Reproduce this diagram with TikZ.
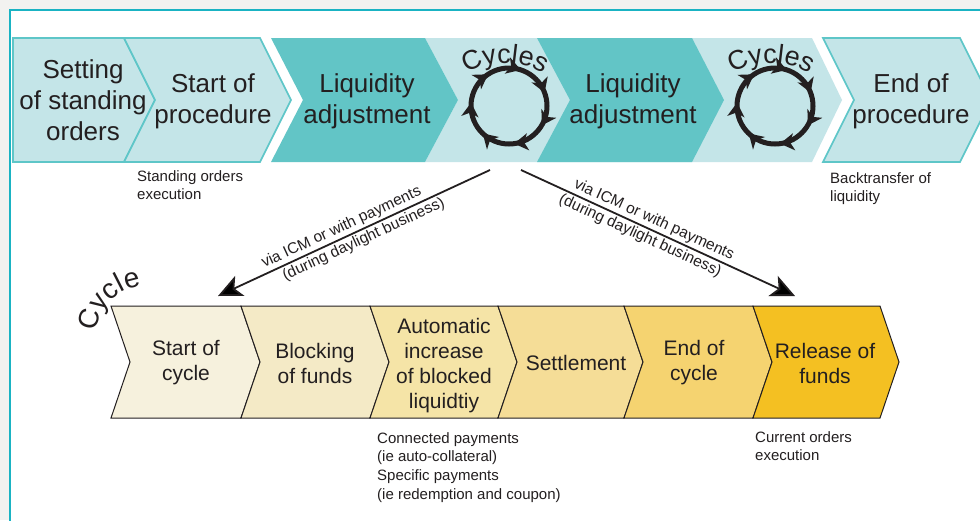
\documentclass[tikz,border=0pt]{standalone}
\usepackage{fontspec}
\setmainfont{Liberation Sans}
\usetikzlibrary{arrows.meta,decorations.text,decorations.markings}
\definecolor{bggray}{HTML}{F2F2F0}
\definecolor{frameteal}{HTML}{1AB3C3}
\definecolor{lightteal}{HTML}{C4E5E8}
\definecolor{darkteal}{HTML}{62C5C6}
\definecolor{lineteal}{HTML}{5EC6C8}
\definecolor{txt}{HTML}{231F20}
\definecolor{ya}{HTML}{F6F1DD}
\definecolor{yb}{HTML}{F4EAC6}
\definecolor{yc}{HTML}{F5E4A7}
\definecolor{yd}{HTML}{F5DD97}
\definecolor{ye}{HTML}{F5D370}
\definecolor{yf}{HTML}{F4C022}
\newcommand\cyclesfont{\fontsize{27}{30}\selectfont}
\begin{document}
\begin{tikzpicture}[x=1pt,y=1pt,
  bigtxt/.style={font=\fontsize{26}{31}\selectfont, align=center, text=txt, inner sep=0pt},
  midtxt/.style={font=\fontsize{21}{25}\selectfont, align=center, text=txt, inner sep=0pt},
  smalltxt/.style={font=\fontsize{15}{18.7}\selectfont, align=left, text=txt, inner sep=0pt, anchor=north west},
  lbl/.style={font=\fontsize{15.5}{18}\selectfont, text=txt, inner sep=2pt},
  cycletter/.style={font=\fontsize{28}{32}\selectfont, text=txt, inner sep=0pt, anchor=base},
  lightchev/.style={fill=lightteal, draw=lineteal, line width=1.6pt, line join=miter},
  darkchev/.style={fill=darkteal},
  ychev/.style={draw=txt, line width=1pt, line join=miter},
  bigarrow/.style={draw=txt, line width=1.8pt},
  ring/.style={draw=txt, line width=5pt, postaction={decorate},
    decoration={markings, mark=between positions 0.05 and 0.99 step 0.142857 with {\arrow[txt]{Stealth[length=14pt,width=17pt,inset=4pt]}}}}
]
\useasboundingbox (0,0) rectangle (980,-520);
\clip (0,0) rectangle (980,-520);
\fill[bggray] (0,0) rectangle (980,-520);
\draw[frameteal, line width=2pt, fill=white] (9.5,-9.5) rectangle (1000,-540);

% top row
\path[lightchev] (13,-38) -- (124,-38) -- (155,-100) -- (124,-162) -- (13,-162) -- cycle;
\path[lightchev] (124,-38) -- (260,-38) -- (291,-100) -- (260,-162) -- (124,-162) -- (155,-100) -- cycle;
\path[fill=lightteal] (425,-38) -- (812,-38) -- (842,-100) -- (812,-162) -- (425,-162) -- (458,-100) -- cycle;
\path[darkchev] (271,-38) -- (425,-38) -- (458,-100) -- (425,-162) -- (271,-162) -- (303,-100) -- cycle;
\path[darkchev] (537,-38) -- (692,-38) -- (724,-100) -- (692,-162) -- (537,-162) -- (570,-100) -- cycle;
\path[lightchev] (823,-38) -- (960,-38) -- (991,-100) -- (960,-162) -- (823,-162) -- (854,-100) -- cycle;

\node[bigtxt] (setting) at (83,-100) {Setting\\of standing\\orders};
\node[bigtxt] (startproc) at (213,-101) {Start of\\procedure};
\node[bigtxt] (liq1) at (367,-101) {Liquidity\\adjustment};
\node[bigtxt] (liq2) at (633,-101) {Liquidity\\adjustment};
\node[bigtxt] (endproc) at (911,-101) {End of\\procedure};

% cycle icons
\foreach \cx/\nm in {509/cyc1, 775/cyc2} {
  \coordinate (\nm) at (\cx,-106);
  \draw[ring] (\cx,-68) arc[start angle=90, end angle=-270, radius=38];
  \path[decorate, decoration={text along path, text={|\cyclesfont|Cycles}, text align=center, text color=txt}]
    (\cx-4,-139) ++(125:76) arc[start angle=125, end angle=55, radius=76];
}

% side notes top
\node[smalltxt] (standing) at (137,-170) {Standing orders\\execution};
\node[smalltxt] (backtr) at (830,-172) {Backtransfer of\\liquidity};

% bottom row
\path[ychev, fill=ya] (111,-306) -- (241,-306) -- (260,-362) -- (241,-418) -- (111,-418) -- (130,-362) -- cycle;
\path[ychev, fill=yb] (241,-306) -- (370,-306) -- (389,-362) -- (370,-418) -- (241,-418) -- (260,-362) -- cycle;
\path[ychev, fill=yc] (370,-306) -- (498,-306) -- (517,-362) -- (498,-418) -- (370,-418) -- (389,-362) -- cycle;
\path[ychev, fill=yd] (498,-306) -- (624,-306) -- (643,-362) -- (624,-418) -- (498,-418) -- (517,-362) -- cycle;
\path[ychev, fill=ye] (624,-306) -- (753,-306) -- (772,-362) -- (753,-418) -- (624,-418) -- (643,-362) -- cycle;
\path[ychev, fill=yf] (753,-306) -- (880,-306) -- (899,-362) -- (880,-418) -- (753,-418) -- (772,-362) -- cycle;

\node[midtxt] (startcyc) at (186,-363) {Start of\\cycle};
\node[midtxt] (blocking) at (315,-363) {Blocking\\of funds};
\node[midtxt] (auto) at (444,-366) {Automatic\\increase\\of blocked\\liquidtiy};
\node[midtxt] (settle) at (576,-363) {Settlement};
\node[midtxt] (endcyc) at (694,-363) {End of\\cycle};
\node[midtxt] (release) at (825,-363) {Release of\\funds};

% curved "Cycle" word, letter by letter
\foreach \ch/\a in {C/164, y/144.5, c/128.5, l/116.9, e/104.4} {
  \node[cycletter, rotate=\a-90] (cyc-\ch) at ([shift={(\a:50)}]146,-336) {\ch};
}

% bottom notes
\node[smalltxt] (connected) at (377,-432) {Connected payments\\(ie auto-collateral)\\Specific payments\\(ie redemption and coupon)};
\node[smalltxt] (current) at (755,-431) {Current orders\\execution};

% arrows
\coordinate (lstart) at (490,-170);
\coordinate (ltip) at (218,-296);
\coordinate (rstart) at (521,-170);
\coordinate (rtip) at (795,-296);
\draw[bigarrow, {Stealth[length=24pt,width=22pt,inset=6pt]}-] (ltip) -- (lstart)
  node[pos=0.47, above, sloped, lbl] (l1) {via ICM or with payments}
  node[pos=0.52, below, sloped, lbl] (l2) {(during daylight business)};
\draw[bigarrow, -{Stealth[length=24pt,width=22pt,inset=6pt]}] (rstart) -- (rtip)
  node[pos=0.47, above, sloped, lbl] (r1) {via ICM or with payments}
  node[pos=0.45, below, sloped, lbl] (r2) {(during daylight business)};
\end{tikzpicture}
\end{document}
